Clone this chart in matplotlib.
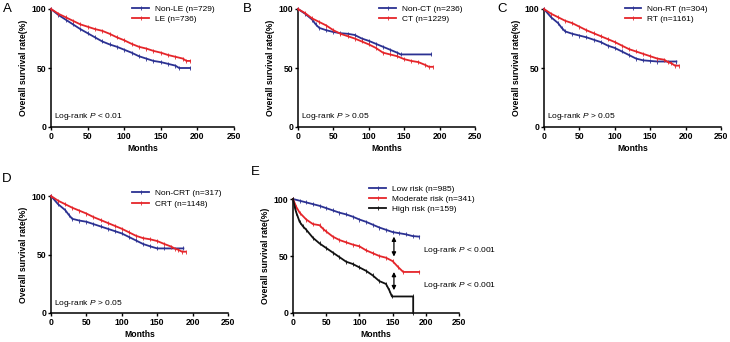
import matplotlib
matplotlib.use('Agg')
import matplotlib.pyplot as plt

plt.rcParams['font.family'] = ['Liberation Sans', 'DejaVu Sans']
plt.rcParams['mathtext.fontset'] = 'custom'
plt.rcParams['mathtext.it'] = 'Liberation Sans:italic'
plt.rcParams['mathtext.rm'] = 'Liberation Sans'

BLUE = "#2b3192"
RED = "#e5252a"
BLACK = "#111111"

# ── Panel A: Non-LE vs LE ────────────────────────────────────
a_t1 = [0, 10, 20, 30, 40, 50, 60, 70, 80, 90, 100, 110, 120, 130, 140, 150, 160, 170, 175, 190]
a_s1 = [100, 95, 91, 87, 83, 79.5, 76, 72.5, 70, 68, 65.5, 63, 60, 58, 56, 55, 53.5, 52, 50, 50]
a_t2 = [0, 10, 20, 30, 40, 50, 60, 70, 80, 90, 100, 110, 120, 130, 140, 150, 160, 170, 180, 185, 190]
a_s2 = [100, 96, 93, 90, 87, 85, 83, 81.5, 79, 76, 73.5, 70.5, 68, 66.5, 64.5, 63, 61, 59.5, 58, 56, 56]
a_labels = ["Non-LE (n=729)", "LE (n=736)"]

# ── Panel B: Non-CT vs CT ────────────────────────────────────
b_t1 = [0, 10, 20, 25, 30, 40, 50, 60, 70, 80, 90, 100, 110, 120, 130, 140, 145, 188]
b_s1 = [100, 96, 91, 87, 84, 82, 80.5, 79.5, 79, 78, 75, 73, 70.5, 68, 65.5, 63, 61.5, 61.5]
b_t2 = [0, 10, 20, 30, 40, 50, 60, 70, 80, 90, 100, 110, 120, 130, 140, 150, 160, 170, 180, 185, 190]
b_s2 = [100, 96.5, 92, 89, 86, 82, 79, 77, 75, 72.5, 70, 67, 63, 61.5, 60, 57.5, 56, 55, 52.5, 51, 51]
b_labels = ["Non-CT (n=236)", "CT (n=1229)"]

# ── Panel C: Non-RT vs RT ────────────────────────────────────
c_t1 = [0, 10, 20, 25, 30, 40, 50, 60, 70, 80, 90, 100, 110, 120, 130, 140, 150, 160, 187]
c_s1 = [100, 93, 88, 84, 81, 79, 77.5, 76, 74, 72, 69, 67, 64, 61, 58, 56.5, 56, 55.5, 55.5]
c_t2 = [0, 10, 20, 30, 40, 50, 60, 70, 80, 90, 100, 110, 120, 130, 140, 150, 160, 170, 175, 180, 185, 190]
c_s2 = [100, 96, 93, 90, 88, 85, 82, 79.5, 77, 74.5, 72, 69, 66, 64, 62, 60, 58, 57, 55, 54, 52, 52]
c_labels = ["Non-RT (n=304)", "RT (n=1161)"]

# ── Panel D: Non-CRT vs CRT ──────────────────────────────────
d_t1 = [0, 10, 20, 25, 30, 40, 50, 60, 70, 80, 90, 100, 110, 120, 130, 140, 150, 160, 187]
d_s1 = [100, 93, 88, 84, 80.5, 79, 78, 76, 74, 72, 70, 68, 65, 62, 59, 57, 55.2, 55.2, 55.2]
d_t2 = [0, 10, 20, 30, 40, 50, 60, 70, 80, 90, 100, 110, 120, 130, 140, 150, 160, 170, 175, 180, 185, 190]
d_s2 = [100, 96, 93, 90, 87.5, 85, 82, 79.5, 77, 74.5, 72, 69, 66, 64, 63, 61.5, 59, 56.7, 55, 54, 52.4, 52.4]
d_labels = ["Non-CRT (n=317)", "CRT (n=1148)"]

# ── Panel E: risk groups ─────────────────────────────────────
e_t1 = [0, 10, 20, 30, 40, 50, 60, 70, 80, 90, 100, 110, 120, 130, 140, 150, 160, 170, 180, 190]
e_s1 = [100, 98.5, 97, 95.5, 94, 92, 90, 88, 86.5, 84.5, 82, 80, 77.5, 75, 73, 71, 70, 69, 67.5, 67]
e_t2 = [0, 5, 10, 20, 30, 40, 45, 50, 60, 70, 80, 90, 100, 110, 120, 130, 140, 150, 158, 166, 190]
e_s2 = [100, 93, 88, 82, 78, 77, 74, 71.5, 67, 64, 62, 60, 58.5, 55, 52.5, 50, 48.5, 45.5, 40.5, 36, 36]
e_t3 = [0, 3, 5, 10, 15, 20, 30, 40, 50, 60, 70, 80, 90, 100, 110, 120, 130, 140, 145, 149, 181, 181]
e_s3 = [100, 92, 88, 80, 76, 73, 66, 61, 57, 53, 49, 45, 43, 40, 37, 33, 28, 25.5, 20, 14.5, 14.5, 0]
e_labels = ["Low risk (n=985)", "Moderate risk (n=341)", "High risk (n=159)"]
e_arrows = [(67, 49.5), (36, 20)]   # survival span of the two double arrows at 152 months

FS = 6.2     # bold axis text
FSL = 6.0    # legend / log-rank
W, H = 730, 342
fig = plt.figure(figsize=(W / 100, H / 100), dpi=100)


def make_ax(x0, x1, ytop, ybot):
    ax = fig.add_axes([x0 / W, 1 - ybot / H, (x1 - x0) / W, (ybot - ytop) / H])
    for s in ["top", "right"]:
        ax.spines[s].set_visible(False)
    for s in ["left", "bottom"]:
        ax.spines[s].set_linewidth(1.1)
    ax.set_xlim(0, 250); ax.set_ylim(0, 100)
    ax.set_xticks([0, 50, 100, 150, 200, 250]); ax.set_yticks([0, 50, 100])
    ax.tick_params(direction="out", length=2.2, width=1.0, pad=1.2, labelsize=FS)
    for lb in ax.get_xticklabels() + ax.get_yticklabels():
        lb.set_fontweight("bold")
    ax.set_xlabel("Months", fontsize=FS, fontweight="bold", labelpad=2.5)
    ax.set_ylabel("Overall survival rate(%)", fontsize=FS, fontweight="bold", labelpad=2.5)
    ax.patch.set_alpha(0)
    return ax


def km(ax, t, s, color, label):
    ax.plot(t, s, color=color, lw=1.3, marker="|", ms=2.2, mew=0.6,
            label=label, clip_on=False, zorder=3)


def legend(ax, x, y):
    ax.legend(loc="upper left", bbox_to_anchor=(x, y), frameon=False, fontsize=FSL,
              handlelength=2.0, handletextpad=0.7, borderpad=0, borderaxespad=0,
              labelspacing=0.3, numpoints=1, markerscale=1.6)


def logrank(ax, txt):
    ax.text(4, 8.5, txt, fontsize=FSL, ha="left", va="center")


# A
ax = make_ax(51, 234, 9, 127)
km(ax, a_t1, a_s1, BLUE, a_labels[0]); km(ax, a_t2, a_s2, RED, a_labels[1])
legend(ax, 0.445, 1.035)
logrank(ax, r"Log-rank $\mathit{P}$ < 0.01")
fig.text(3 / W, 1 - 9 / H, "A", fontsize=9.5, va="center")

# B
ax = make_ax(298, 475, 9, 127)
km(ax, b_t1, b_s1, BLUE, b_labels[0]); km(ax, b_t2, b_s2, RED, b_labels[1])
legend(ax, 0.46, 1.035)
logrank(ax, r"Log-rank $\mathit{P}$ > 0.05")
fig.text(243 / W, 1 - 9 / H, "B", fontsize=9.5, va="center")

# C
ax = make_ax(544, 721, 9, 127)
km(ax, c_t1, c_s1, BLUE, c_labels[0]); km(ax, c_t2, c_s2, RED, c_labels[1])
legend(ax, 0.455, 1.035)
logrank(ax, r"Log-rank $\mathit{P}$ > 0.05")
fig.text(497 / W, 1 - 9 / H, "C", fontsize=9.5, va="center")

# D
ax = make_ax(51, 228, 196, 313)
km(ax, d_t1, d_s1, BLUE, d_labels[0]); km(ax, d_t2, d_s2, RED, d_labels[1])
legend(ax, 0.46, 1.055)
logrank(ax, r"Log-rank $\mathit{P}$ > 0.05")
fig.text(2 / W, 1 - 179 / H, "D", fontsize=9.5, va="center")

# E
ax = make_ax(293, 459, 199, 313)
km(ax, e_t1, e_s1, BLUE, e_labels[0])
km(ax, e_t2, e_s2, RED, e_labels[1])
km(ax, e_t3, e_s3, BLACK, e_labels[2])
legend(ax, 0.46, 1.125)
for y0, y1 in e_arrows:
    ax.annotate("", xy=(152, y1), xytext=(152, y0),
                arrowprops=dict(arrowstyle="<|-|>", color="black", lw=0.9,
                                mutation_scale=6, shrinkA=0, shrinkB=0))
ax.text(196, 55, r"Log-rank $\mathit{P}$ < 0.001", fontsize=FSL, va="center", clip_on=False)
ax.text(196, 24, r"Log-rank $\mathit{P}$ < 0.001", fontsize=FSL, va="center", clip_on=False)
fig.text(251 / W, 1 - 172 / H, "E", fontsize=9.5, va="center")

plt.savefig("out.png", dpi=100)
